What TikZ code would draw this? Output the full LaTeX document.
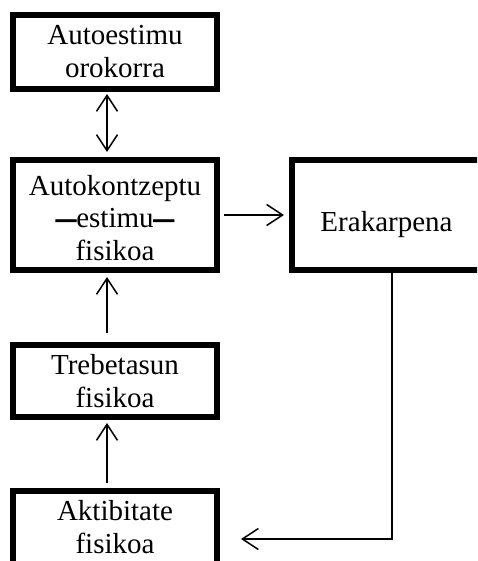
\documentclass[tikz,border=0pt]{standalone}
\usepackage{fontspec}
\setmainfont{Liberation Serif}
\usetikzlibrary{arrows.meta}
\newcommand{\mydash}{\scalebox{0.7}[1]{\textbf{\addfontfeature{FakeBold=3}—}}}
\begin{document}
\begin{tikzpicture}[x=1pt,y=-1pt,
  box/.style={draw=black,line width=6pt,fill=white,inner sep=0pt,outer sep=0pt,align=center,
    font=\fontsize{29}{33}\selectfont},
  txt/.style={inner sep=0pt,align=center,font=\fontsize{29}{32.5}\selectfont},
  conn/.style={line width=1.5pt,black},
  barb/.tip={Straight Barb[length=16pt,width=21pt]}
]
\clip (0,0) rectangle (477,561);
\fill[white] (0,0) rectangle (477,561);
\coordinate (colx) at (107,0);
\coordinate (fbx) at (392,0);
\coordinate (fby) at (0,539);

\node[box,minimum width=204pt,minimum height=74pt] (a) at (115,52) {Autoestimu\\orokorra};
\node[box,minimum width=204pt,minimum height=110pt] (b) at (115,215) {};
\node[txt,anchor=base] (bt) at (115,260)
  {Autokontzeptu\\\mydash estimu\mydash\\fisikoa};
\node[box,minimum width=198pt,minimum height=110pt] (e) at (391,215) {};
\node[txt,anchor=base] (et) at (386.5,231) {Erakarpena};
\node[box,minimum width=204pt,minimum height=72pt] (c) at (115,381) {Trebetasun\\fisikoa};
\node[box,minimum width=204pt,minimum height=90pt] (d) at (115,536) {};
\node[txt,anchor=base] (dt) at (115,553) {Aktibitate\\fisikoa};

\draw[conn,barb-barb,shorten <=5pt,shorten >=8pt]
  (a.south -| colx) -- (b.north -| colx);
\draw[conn,-barb,shorten <=12pt,shorten >=7pt]
  (c.north -| colx) -- (b.south -| colx);
\draw[conn,-barb,shorten <=8pt,shorten >=6pt]
  (d.north -| colx) -- (c.south -| colx);
\draw[conn,-barb,shorten <=7pt,shorten >=8pt]
  (b.east) -- (e.west);
\draw[conn,-barb,shorten >=24pt]
  (e.south -| fbx) |- (d.east |- fby);
\end{tikzpicture}
\end{document}
